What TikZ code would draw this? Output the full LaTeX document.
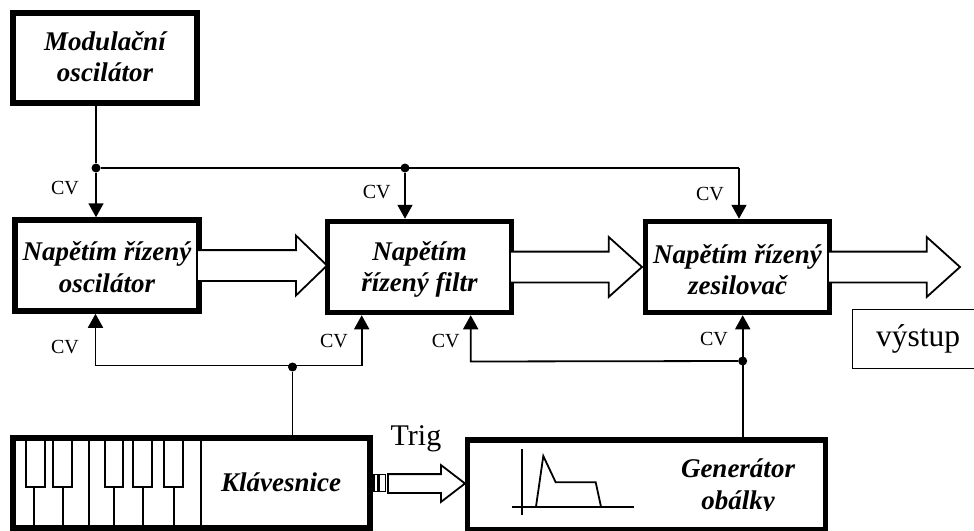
\documentclass[tikz,border=0pt]{standalone}
\usepackage{fontspec}
\setmainfont{Liberation Serif}
\usetikzlibrary{arrows.meta, positioning, calc, shapes.arrows}

\begin{document}
\begin{tikzpicture}[
    x=1pt, y=-1pt,
    block/.style={rectangle, draw, line width=5.5pt, fill=white, inner sep=0pt,
                  minimum width=184pt, minimum height=91pt},          % Thick boxes
    blocktext/.style={font=\fontsize{27}{31.5}\selectfont\bfseries\itshape, align=center, inner sep=0pt},
    bus/.style={single arrow, draw, fill=white, line width=1.8pt, inner sep=0pt, outer sep=0pt,
                anchor=tip, minimum width=58pt, single arrow head extend=14.5pt,
                single arrow tip angle=84, minimum height=132pt},     % Wide signal arrows
    wire/.style={line width=1.8pt},                                   % Plain control line
    cv/.style={wire, -{Triangle[length=14pt, width=15pt]}},           % Control line with tip
    dot/.style={circle, fill, inner sep=0pt, minimum size=9pt},       % Junction
    cvtext/.style={font=\fontsize{20}{24}\selectfont, inner sep=0pt},
    keyline/.style={line width=1.8pt}
]
\useasboundingbox (0,0) rectangle (974,530);

% --- MAIN BLOCKS ---
\node[block, line width=6pt, minimum height=90pt] (mod) at (105,58) {};
\node[block] (osc) at (107,265.5) {};
\node[block] (filt) at (419.5,267) {};
\node[block] (amp) at (737.5,267) {};
\node[block, line width=6pt, minimum width=357pt, minimum height=90pt] (keys) at (191.5,483) {};
\node[block, minimum width=358pt, minimum height=90pt] (env) at (646.5,485) {};
\node[draw, line width=1.8pt, minimum width=131pt, minimum height=59pt, inner sep=0pt,
      font=\fontsize{31.5}{36}\selectfont] (out) at (918,339) {výstup};

% --- BLOCK TEXTS ---
\node[blocktext, yshift=1.5pt] (modtext) at (mod) {Modulační\\oscilátor};
\node[blocktext, yshift=-1.5pt] (osctext) at (osc) {Napětím řízený\\oscilátor};
\node[blocktext, yshift=-2.5pt] (filttext) at (filt) {Napětím\\řízený filtr};
\node[blocktext, yshift=-2.5pt] (amptext) at (amp) {Napětím řízený\\zesilovač};

% --- KEYBOARD ---
\draw[keyline] (26,438) rectangle (44.7,486.7);
\draw[keyline] (53,438) rectangle (71.7,486.7);
\draw[keyline] (104.7,438) rectangle (123.3,486.7);
\draw[keyline] (133.3,438) rectangle (152,486.7);
\draw[keyline] (164,438) rectangle (182.7,486.7);
\draw[keyline] (34,486.7) -- (34,525);
\draw[keyline] (62.7,486.7) -- (62.7,525);
\draw[keyline] (89.3,438) -- (89.3,525);
\draw[keyline] (114.3,486.7) -- (114.3,525);
\draw[keyline] (143.3,486.7) -- (143.3,525);
\draw[keyline] (174,486.7) -- (174,525);
\draw[keyline] (200.7,438) -- (200.7,525);
\node[blocktext] (keystext) at (281,482.5) {Klávesnice};

% --- ENVELOPE ---
\draw[keyline] (522.3,449) -- (522.3,515);
\draw[keyline] (512,506.7) -- (634,506.7);
\draw[keyline] (536,506.7) -- (543.3,456) -- (555.7,482.3) -- (595.7,482.3) -- (601,506.7);
\begin{scope}
    \clip (640,440) rectangle (820,510.5);  % Last line is cut off at its baseline
    \node[blocktext] (envtext) at (738,487) {Generátor\\obálky};
\end{scope}

% --- CONTROL LINES FROM THE MODULATOR ---
\node[dot] (j1) at (96,168) {};
\node[dot] (j2) at (405,168) {};
\coordinate (c1) at (739,168);
\draw[wire] (j1 |- mod.south) -- (j1);
\draw[wire] (j1) -- (c1);
\draw[cv] (j1) -- (j1 |- osc.north);
\draw[cv] (j2) -- (j2 |- filt.north);
\draw[cv] (c1) -- (c1 |- amp.north);

% --- CONTROL LINES FROM THE KEYBOARD ---
\node[dot] (j3) at (292.5,367) {};
\coordinate (c2) at (95.5,365.5);
\coordinate (c3) at (361.7,365.5);
\draw[wire] (j3 |- keys.north) -- (j3);
\draw[cv] (c2 -| j3) -- (c2) -- (c2 |- osc.south);
\draw[cv] (c3 -| j3) -- (c3) -- (c3 |- filt.south);

% --- CONTROL LINES FROM THE ENVELOPE ---
\node[dot] (j4) at (742.7,361) {};
\coordinate (c4) at (470.7,361.5);
\draw[cv] (j4 |- env.north) -- (j4 |- amp.south);
\draw[cv] (j4) -- (c4) -- (c4 |- filt.south);

% --- SIGNAL ARROWS (on top of the box edges) ---
\node[bus, minimum height=130pt, single arrow tip angle=88] (bus1) at (327,265.5) {\rule{0pt}{29pt}};
\node[bus] (bus2) at (642,267) {\rule{0pt}{29pt}};
\node[bus] (bus3) at (960,267) {\rule{0pt}{29pt}};

% --- TRIGGER ARROW ---
\node[bus, minimum width=35pt, minimum height=77pt, single arrow head extend=9pt,
      single arrow tip angle=75] (trig) at (465,483.5) {\rule{0pt}{17pt}};
\node[draw, line width=1.5pt, minimum width=3.5pt, minimum height=17pt, inner sep=0pt] (gap1) at (375.5,483) {};
\node[draw, line width=1.5pt, minimum width=6.5pt, minimum height=17pt, inner sep=0pt] (gap2) at (382,483) {};

% --- LABELS ---
\node[cvtext] (cv1) at (65,188) {CV};
\node[cvtext] (cv2) at (376.7,192) {CV};
\node[cvtext] (cv3) at (710,194) {CV};
\node[cvtext] (cv4) at (65,346.7) {CV};
\node[cvtext] (cv5) at (334,340.7) {CV};
\node[cvtext] (cv6) at (445.7,341) {CV};
\node[cvtext] (cv7) at (714,339) {CV};
\node[font=\fontsize{30}{36}\selectfont, inner sep=0pt] (trigtext) at (416,439) {Trig};

\end{tikzpicture}
\end{document}
